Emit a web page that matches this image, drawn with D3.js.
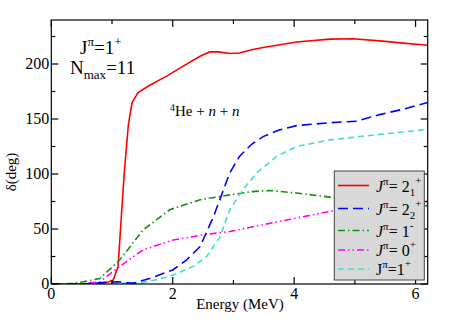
<!DOCTYPE html>
<html>
<head>
<meta charset="utf-8">
<script src="https://cdn.jsdelivr.net/npm/d3@7"></script>
<style>
body { margin: 0; background: #fff; }
text { font-family: "Liberation Serif", serif; }
</style>
</head>
<body>
<svg width="452" height="327"></svg>
<script>
// phase shifts, energy in MeV, delta in degrees
const red_E   = [0, 0.5, 0.8, 0.95, 1.02, 1.1, 1.2, 1.27, 1.33, 1.43, 1.6, 1.9, 2.2, 2.45, 2.61, 2.75, 2.94, 3.1, 3.3, 3.49, 4.04, 4.59, 4.97, 5.41, 5.8, 6.2];
const red_d   = [0, 0, 0.5, 2, 3.6, 16, 100, 145, 165, 174, 180, 189, 199, 207, 211, 211, 209.5, 210, 213, 215, 220, 222.6, 223, 221, 219, 217];
const blue_E  = [0, 0.6, 0.9, 1.1, 1.35, 1.62, 2.0, 2.23, 2.45, 2.67, 2.94, 3.1, 3.3, 3.49, 3.75, 4.04, 4.59, 5.03, 5.41, 5.8, 6.2];
const blue_d  = [0, 0.3, 1.5, 2, 0.6, 5, 12.8, 22, 34, 61, 101, 116, 127, 134, 140, 144, 146.6, 148, 154, 159, 165];
const cyan_E  = [0, 1.0, 1.5, 1.75, 2.0, 2.34, 2.56, 2.78, 2.94, 3.16, 3.4, 3.65, 3.71, 4.04, 4.59, 5.41, 6.2];
const cyan_d  = [0, 0, 1.5, 4, 8, 16, 25, 43, 67.5, 86, 102, 113, 116, 125, 131, 136, 140.5];
const green_E = [0, 0.3, 0.53, 0.8, 1.13, 1.51, 1.95, 2.45, 2.94, 3.3, 3.6, 4.04, 4.59, 5.2, 5.8, 6.2];
const green_d = [0, 0.3, 2, 5, 22, 49, 67.5, 76.6, 81, 84, 85, 82.7, 79, 76, 73, 71];
const mag_E   = [0, 0.5, 0.8, 1.13, 1.51, 2.01, 2.5, 2.94, 3.49, 4.04, 4.59, 5.2, 5.8, 6.2];
const mag_d   = [0, 0.3, 2, 16, 31, 40, 44.7, 47.7, 54, 60, 66, 70, 73, 75];

const series = [
  { E: red_E,   d: red_d,   color: "#ff0000", dash: null },
  { E: green_E, d: green_d, color: "#109010", dash: "7,3,1.5,3" },
  { E: mag_E,   d: mag_d,   color: "#ff00ff", dash: "7,3,1.5,3,1.5,3" },
  { E: cyan_E,  d: cyan_d,  color: "#40e0d0", dash: "6,4" },
  { E: blue_E,  d: blue_d,  color: "#0000ff", dash: "10,5" }
];

const xTicks = [0, 2, 4, 6];
const yTicks = [0, 50, 100, 150, 200];

const svg = d3.select("svg");
const pLeft = 51.3, pRight = 427.7, pTop = 20, pBottom = 284;

const x = d3.scaleLinear().domain([0, 6.2]).range([pLeft, pRight]);
const y = d3.scaleLinear().domain([0, 240]).range([pBottom, pTop]);

// curves
svg.append("clipPath").attr("id", "plot")
  .append("rect").attr("x", pLeft).attr("y", pTop)
  .attr("width", pRight - pLeft).attr("height", pBottom - pTop);

const line = d3.line().x(p => x(p[0])).y(p => y(p[1]));
const curves = svg.append("g").attr("clip-path", "url(#plot)");
series.map(s => {
  curves.append("path")
    .attr("d", line(s.E.map((e, i) => [e, s.d[i]])))
    .attr("fill", "none")
    .attr("stroke", s.color)
    .attr("stroke-width", 1.6)
    .attr("stroke-dasharray", s.dash);
});

// frame with inward ticks on all four sides
const minorX = d3.range(1, 7, 2);
const minorY = d3.range(25, 240, 50);
const axes = svg.append("g").attr("stroke", "#000").attr("stroke-width", 1.2);
axes.append("rect").attr("x", pLeft).attr("y", pTop)
  .attr("width", pRight - pLeft).attr("height", pBottom - pTop).attr("fill", "none");
[[xTicks, 7], [minorX, 4]].map(([tk, len]) => {
  tk.map(t => {
    axes.append("line").attr("x1", x(t)).attr("x2", x(t)).attr("y1", pBottom).attr("y2", pBottom - len);
    axes.append("line").attr("x1", x(t)).attr("x2", x(t)).attr("y1", pTop).attr("y2", pTop + len);
  });
});
[[yTicks, 7], [minorY, 4]].map(([tk, len]) => {
  tk.map(t => {
    axes.append("line").attr("y1", y(t)).attr("y2", y(t)).attr("x1", pLeft).attr("x2", pLeft + len);
    axes.append("line").attr("y1", y(t)).attr("y2", y(t)).attr("x1", pRight).attr("x2", pRight - len);
  });
});

// tick labels
svg.append("g").selectAll("text").data(xTicks).join("text")
  .attr("x", d => x(d)).attr("y", pBottom + 15)
  .attr("text-anchor", "middle").attr("font-size", 16).text(d => d);
svg.append("g").selectAll("text").data(yTicks).join("text")
  .attr("x", pLeft - 2).attr("y", d => y(d) + 5)
  .attr("text-anchor", "end").attr("font-size", 16).text(d => d);

// axis titles
svg.append("text").attr("x", 240).attr("y", 309)
  .attr("text-anchor", "middle").attr("font-size", 15).text("Energy (MeV)");
svg.append("text").attr("transform", "translate(16,172) rotate(-90)")
  .attr("text-anchor", "middle").attr("font-size", 15).text("δ(deg)");

// annotations
const t1 = svg.append("text").attr("x", 80).attr("y", 54).attr("font-size", 19);
t1.append("tspan").text("J");
t1.append("tspan").attr("dy", -8).attr("font-size", 13).text("π");
t1.append("tspan").attr("dy", 8).text("=1");
t1.append("tspan").attr("dy", -8).attr("font-size", 13).text("+");

const t2 = svg.append("text").attr("x", 70).attr("y", 74).attr("font-size", 19);
t2.append("tspan").text("N");
t2.append("tspan").attr("dy", 5).attr("font-size", 13).text("max");
t2.append("tspan").attr("dy", -5).text("=11");

const t3 = svg.append("text").attr("x", 170).attr("y", 116).attr("font-size", 15);
t3.append("tspan").attr("dy", -5).attr("font-size", 10).text("4");
t3.append("tspan").attr("dy", 5).text("He + ");
t3.append("tspan").attr("font-style", "italic").text("n");
t3.append("tspan").text(" + ");
t3.append("tspan").attr("font-style", "italic").text("n");

// legend
const legend = svg.append("g");
legend.append("rect").attr("x", 334.3).attr("y", 171).attr("width", 90).attr("height", 109)
  .attr("fill", "#d9d9d9").attr("stroke", "#444").attr("stroke-width", 1);

const legendRows = [
  { s: series[0], y: 185.5, j: "2", sub: "1", sup: "+", italic: true },
  { s: series[4], y: 208.5, j: "2", sub: "2", sup: "+", italic: true },
  { s: series[1], y: 230.5, j: "1", sub: null, sup: "-", italic: true },
  { s: series[2], y: 250, j: "0", sub: null, sup: "+", italic: true },
  { s: series[3], y: 269, j: "1", sub: null, sup: "+", italic: false }
];
legendRows.map(r => {
  legend.append("line").attr("x1", 338).attr("x2", 369).attr("y1", r.y).attr("y2", r.y)
    .attr("stroke", r.s.color).attr("stroke-width", 1.6).attr("stroke-dasharray", r.s.dash);
  const t = legend.append("text").attr("x", 376).attr("y", r.y + 6).attr("font-size", 16);
  t.append("tspan").attr("font-style", r.italic ? "italic" : null).text("J");
  t.append("tspan").attr("dy", -7).attr("font-size", 11).text("π");
  t.append("tspan").attr("dy", 7).text(r.italic ? "= " + r.j : "=" + r.j);
  if (r.sub) {
    t.append("tspan").attr("dy", 4).attr("font-size", 11).text(r.sub);
    t.append("tspan").attr("dy", -12).attr("font-size", 11).text(r.sup);
  } else {
    t.append("tspan").attr("dy", -8).attr("font-size", 11).text(r.sup);
  }
});
</script>
</body>
</html>
